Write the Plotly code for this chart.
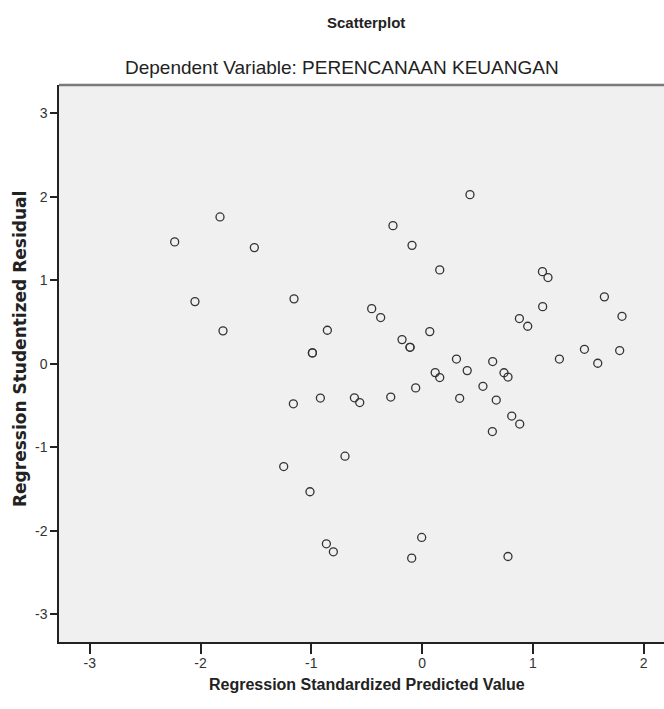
import plotly.graph_objects as go

# Regression Standardized Predicted Value (x) and Studentized Residual (y)
pred = [-2.233, -1.824, -1.514, -2.050, -1.797, -1.156, -0.855, -0.990, -0.990,
        -0.263, -0.455, -0.374, -0.181, -0.109, -0.109, -1.162, -0.918, -0.611,
        -0.563, -0.283, 0.432, -0.091, 0.159, 1.086, 1.136, 1.645, 1.088, 1.804,
        0.878, 0.953, 0.069, 1.465, 1.783, 1.239, 1.585, 0.310, 0.637, 0.118,
        0.159, 0.407, 0.739, 0.775, 0.549, -0.058, 0.339, 0.669, 0.809, 0.881,
        0.634, -0.696, -1.249, -1.012, -0.864, -0.801, -0.004, -0.094, 0.775]
resid = [1.461, 1.760, 1.393, 0.746, 0.396, 0.779, 0.403, 0.132, 0.132,
         1.656, 0.662, 0.555, 0.291, 0.199, 0.199, -0.478, -0.409, -0.406,
         -0.463, -0.397, 2.027, 1.420, 1.126, 1.105, 1.034, 0.803, 0.686, 0.570,
         0.543, 0.451, 0.387, 0.175, 0.160, 0.058, 0.008, 0.058, 0.028, -0.104,
         -0.163, -0.080, -0.106, -0.157, -0.268, -0.287, -0.412, -0.433, -0.624, -0.720,
         -0.810, -1.105, -1.229, -1.531, -2.154, -2.250, -2.078, -2.326, -2.306]

tick_vals = [-3, -2, -1, 0, 1, 2, 3]
tick_text = ["-3", "-2", "-1", "0", "1", "2", "3"]

title_main = "Scatterplot"
title_sub = "Dependent Variable: PERENCANAAN KEUANGAN"
x_title = "Regression Standardized Predicted Value"
y_title = "Regression Studentized Residual"

FONT = "Liberation Sans Narrow, Arial Narrow, Liberation Sans, Arial, sans-serif"

W, H = 664, 709
ML, MR, MT, MB = 59, 0, 85, 67
PW, PH = W - ML - MR, H - MT - MB


def px(x):
    return (x - ML) / PW


def py(y):
    return (H - y - MB) / PH


fig = go.Figure()
fig.add_trace(go.Scatter(
    x=pred, y=resid, mode="markers",
    marker=dict(symbol="circle-open", size=8, color="#333333",
                line=dict(width=1.3, color="#333333")),
    showlegend=False, hoverinfo="skip",
))

axis_common = dict(tickvals=tick_vals, ticktext=tick_text,
                   showgrid=False, zeroline=False, showline=True, linecolor="#222222",
                   linewidth=1.5, ticks="outside", tickwidth=1.5, tickcolor="#222222",
                   tickfont=dict(family=FONT, size=14, color="#333333"))

fig.update_layout(
    width=W, height=H,
    margin=dict(l=ML, r=MR, t=MT, b=MB),
    paper_bgcolor="white",
    plot_bgcolor="#f0f0f0",
    font=dict(family=FONT, size=14, color="#222222"),
    xaxis=dict(range=[-3.277, 2.183], ticklen=10, ticklabelstandoff=-3, **axis_common),
    yaxis=dict(range=[-3.33, 3.34], ticklen=7, **axis_common),
    shapes=[dict(type="line", xref="paper", yref="paper", x0=0, x1=1, y0=1, y1=1,
                 line=dict(color="#7a7a7a", width=2.5))],
    annotations=[
        dict(text="<b>" + title_main + "</b>", xref="paper", yref="paper",
             x=px(366), y=py(22), xanchor="center", yanchor="middle",
             showarrow=False, font=dict(family=FONT, size=15, color="#222222")),
        dict(text=title_sub, xref="paper", yref="paper",
             x=px(342), y=py(67), xanchor="center", yanchor="middle",
             showarrow=False, font=dict(family=FONT, size=19, color="#222222")),
        dict(text="<b>" + x_title + "</b>", xref="paper", yref="paper",
             x=px(367), y=py(684), xanchor="center", yanchor="middle",
             showarrow=False, font=dict(family=FONT, size=16, color="#222222")),
        dict(text="<b>" + y_title + "</b>", xref="paper", yref="paper",
             x=px(20), y=py(349), xanchor="center", yanchor="middle",
             textangle=-90, showarrow=False,
             font=dict(family="DejaVu Sans", size=17, color="#222222")),
    ],
)

fig.write_html("out.html", config={"displayModeBar": False},
               post_script="document.body.style.margin='0';document.body.style.padding='0';")
